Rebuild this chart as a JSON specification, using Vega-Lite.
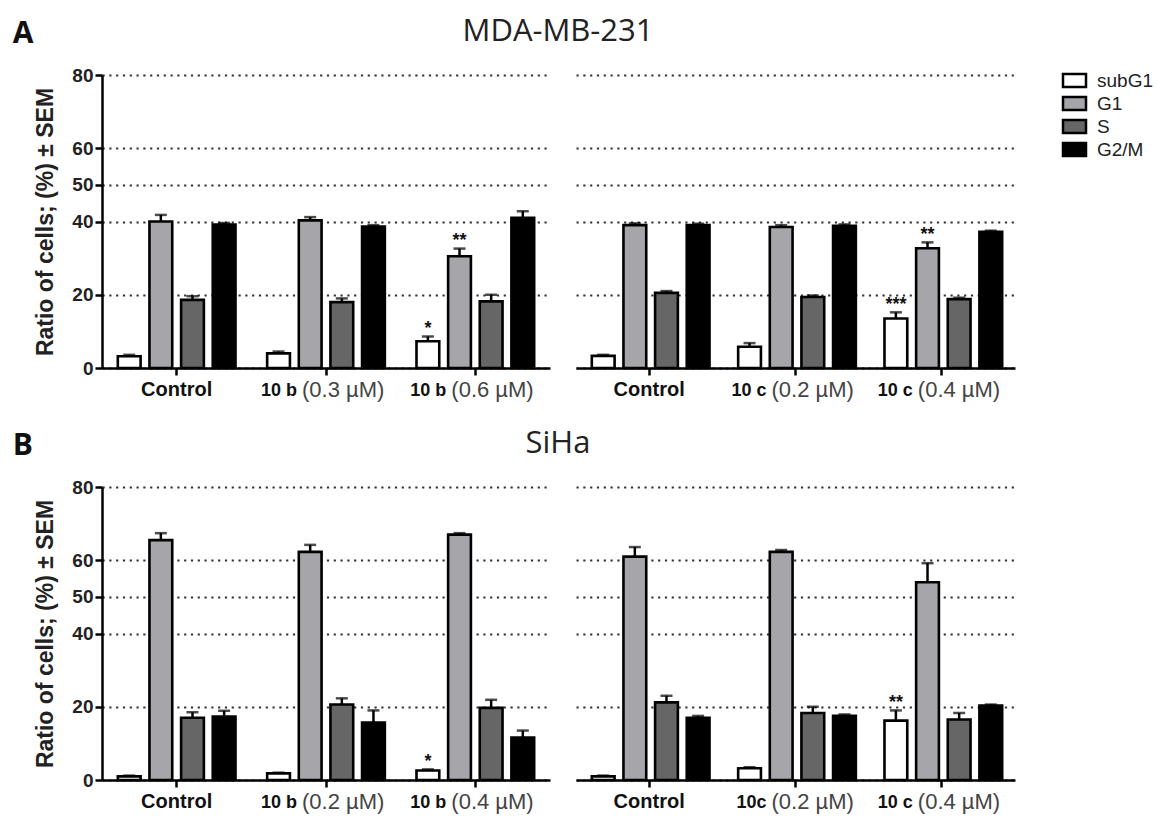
{
 "$schema": "https://vega.github.io/schema/vega-lite/v6.json",
 "padding": {"left": 12, "top": 16, "right": 2, "bottom": 2},
 "background": "white",
 "datasets": {
  "bars": [
   {"p":"AL","cat":"Control","ph":"subG1","v":3.2,"hi":3.6,"sig":""},
   {"p":"AL","cat":"Control","ph":"G1","v":40.0,"hi":41.8,"sig":""},
   {"p":"AL","cat":"Control","ph":"S","v":18.6,"hi":19.6,"sig":""},
   {"p":"AL","cat":"Control","ph":"G2/M","v":39.2,"hi":39.6,"sig":""},
   {"p":"AL","cat":"10b03","ph":"subG1","v":4.0,"hi":4.5,"sig":""},
   {"p":"AL","cat":"10b03","ph":"G1","v":40.3,"hi":41.2,"sig":""},
   {"p":"AL","cat":"10b03","ph":"S","v":18.0,"hi":19.0,"sig":""},
   {"p":"AL","cat":"10b03","ph":"G2/M","v":38.6,"hi":39.0,"sig":""},
   {"p":"AL","cat":"10b06","ph":"subG1","v":7.3,"hi":8.6,"sig":"*"},
   {"p":"AL","cat":"10b06","ph":"G1","v":30.5,"hi":32.6,"sig":"**"},
   {"p":"AL","cat":"10b06","ph":"S","v":18.2,"hi":20.0,"sig":""},
   {"p":"AL","cat":"10b06","ph":"G2/M","v":41.0,"hi":42.8,"sig":""},
   {"p":"AR","cat":"Control","ph":"subG1","v":3.3,"hi":3.6,"sig":""},
   {"p":"AR","cat":"Control","ph":"G1","v":39.0,"hi":39.5,"sig":""},
   {"p":"AR","cat":"Control","ph":"S","v":20.5,"hi":21.0,"sig":""},
   {"p":"AR","cat":"Control","ph":"G2/M","v":39.0,"hi":39.4,"sig":""},
   {"p":"AR","cat":"10c02","ph":"subG1","v":5.8,"hi":6.8,"sig":""},
   {"p":"AR","cat":"10c02","ph":"G1","v":38.5,"hi":39.0,"sig":""},
   {"p":"AR","cat":"10c02","ph":"S","v":19.4,"hi":19.8,"sig":""},
   {"p":"AR","cat":"10c02","ph":"G2/M","v":38.8,"hi":39.2,"sig":""},
   {"p":"AR","cat":"10c04","ph":"subG1","v":13.5,"hi":15.2,"sig":"***"},
   {"p":"AR","cat":"10c04","ph":"G1","v":32.7,"hi":34.3,"sig":"**"},
   {"p":"AR","cat":"10c04","ph":"S","v":18.8,"hi":19.2,"sig":""},
   {"p":"AR","cat":"10c04","ph":"G2/M","v":37.2,"hi":37.5,"sig":""},
   {"p":"BL","cat":"Control","ph":"subG1","v":1.0,"hi":1.2,"sig":""},
   {"p":"BL","cat":"Control","ph":"G1","v":65.5,"hi":67.4,"sig":""},
   {"p":"BL","cat":"Control","ph":"S","v":17.0,"hi":18.5,"sig":""},
   {"p":"BL","cat":"Control","ph":"G2/M","v":17.3,"hi":18.9,"sig":""},
   {"p":"BL","cat":"10b02","ph":"subG1","v":1.8,"hi":2.0,"sig":""},
   {"p":"BL","cat":"10b02","ph":"G1","v":62.3,"hi":64.2,"sig":""},
   {"p":"BL","cat":"10b02","ph":"S","v":20.6,"hi":22.3,"sig":""},
   {"p":"BL","cat":"10b02","ph":"G2/M","v":15.7,"hi":19.0,"sig":""},
   {"p":"BL","cat":"10b04","ph":"subG1","v":2.6,"hi":2.9,"sig":"*"},
   {"p":"BL","cat":"10b04","ph":"G1","v":67.0,"hi":67.4,"sig":""},
   {"p":"BL","cat":"10b04","ph":"S","v":19.7,"hi":21.9,"sig":""},
   {"p":"BL","cat":"10b04","ph":"G2/M","v":11.6,"hi":13.5,"sig":""},
   {"p":"BR","cat":"Control","ph":"subG1","v":1.0,"hi":1.2,"sig":""},
   {"p":"BR","cat":"Control","ph":"G1","v":61.0,"hi":63.6,"sig":""},
   {"p":"BR","cat":"Control","ph":"S","v":21.2,"hi":23.0,"sig":""},
   {"p":"BR","cat":"Control","ph":"G2/M","v":17.0,"hi":17.5,"sig":""},
   {"p":"BR","cat":"10c02","ph":"subG1","v":3.2,"hi":3.5,"sig":""},
   {"p":"BR","cat":"10c02","ph":"G1","v":62.3,"hi":62.8,"sig":""},
   {"p":"BR","cat":"10c02","ph":"S","v":18.3,"hi":20.0,"sig":""},
   {"p":"BR","cat":"10c02","ph":"G2/M","v":17.5,"hi":17.9,"sig":""},
   {"p":"BR","cat":"10c04","ph":"subG1","v":16.2,"hi":19.0,"sig":"**"},
   {"p":"BR","cat":"10c04","ph":"G1","v":54.0,"hi":59.2,"sig":""},
   {"p":"BR","cat":"10c04","ph":"S","v":16.5,"hi":18.3,"sig":""},
   {"p":"BR","cat":"10c04","ph":"G2/M","v":20.3,"hi":20.6,"sig":""}
  ],
  "labels": [
   {"p":"AL","cat":"Control","kind":"c","b":"Control","r":""},
   {"p":"AL","cat":"10b03","kind":"d","b":"10 b","r":"(0.3 µM)"},
   {"p":"AL","cat":"10b06","kind":"d","b":"10 b","r":"(0.6 µM)"},
   {"p":"AR","cat":"Control","kind":"c","b":"Control","r":""},
   {"p":"AR","cat":"10c02","kind":"d","b":"10 c","r":"(0.2 µM)"},
   {"p":"AR","cat":"10c04","kind":"d","b":"10 c","r":"(0.4 µM)"},
   {"p":"BL","cat":"Control","kind":"c","b":"Control","r":""},
   {"p":"BL","cat":"10b02","kind":"d","b":"10 b","r":"(0.2 µM)"},
   {"p":"BL","cat":"10b04","kind":"d","b":"10 b","r":"(0.4 µM)"},
   {"p":"BR","cat":"Control","kind":"c","b":"Control","r":""},
   {"p":"BR","cat":"10c02","kind":"d","b":"10c","r":"(0.2 µM)"},
   {"p":"BR","cat":"10c04","kind":"d","b":"10 c","r":"(0.4 µM)"}
  ]
 },
 "config": {
  "view": {"stroke": null},
  "font": "Liberation Sans",
  "axis": {"domainColor": "black", "domainWidth": 2.5, "tickColor": "black", "tickWidth": 2.5, "tickSize": 7, "labelFont": "Liberation Sans", "labelFontWeight": "bold", "labelFontSize": 19, "labelColor": "#222", "titleFont": "Liberation Sans", "titleFontWeight": "bold", "titleFontSize": 23, "titleColor": "#222"},
  "axisY": {"grid": true, "gridColor": "#333", "gridDash": [2.2, 4.6], "gridWidth": 2.2, "labelPadding": 2, "titlePadding": 14},
  "axisX": {"grid": false, "labels": false},
  "legend": {"orient": "none", "legendX": 961, "legendY": -6, "symbolType": "M-1.15,-0.65H1.15V0.65H-1.15Z", "symbolSize": 400, "symbolStrokeColor": "black", "symbolStrokeWidth": 2.5, "labelFont": "Liberation Sans", "labelFontSize": 19, "labelColor": "#222", "labelOffset": 11, "rowPadding": 0, "padding": 0}
 },
 "resolve": {"scale": {"color": "shared"}},
 "columns": 2,
 "bounds": "flush",
 "spacing": {"row": 119, "column": 26},
 "concat": [
  {
   "width": 448, "height": 293,
   "title": {"text": "A", "anchor": "start", "frame": "bounds", "dx": -22, "offset": -7, "fontSize": 30, "fontWeight": "bold", "font": "Open Sans", "baseline": "alphabetic", "color": "#111"},
   "encoding": {"x": {"field": "cat", "type": "nominal", "scale": {"domain": ["Control", "10b03", "10b06"], "paddingInner": 0, "paddingOuter": 0}, "axis": {"title": null, "labels": false}}},
   "layer": [
    {"data": {"name": "bars"}, "transform": [{"filter": "datum.p == 'AL'"}], "mark": {"type": "bar", "stroke": "black", "strokeWidth": 2.6},
     "encoding": {"xOffset": {"field": "ph", "type": "nominal", "scale": {"domain": ["subG1", "G1", "S", "G2/M"], "paddingInner": 0.28, "paddingOuter": 0.5}},
      "y": {"field": "v", "type": "quantitative", "title": "Ratio of cells; (%) ± SEM", "scale": {"domain": [0, 80]}, "axis": {"values": [0, 20, 40, 50, 60, 80]}},
      "color": {"field": "ph", "type": "nominal", "title": null, "scale": {"domain": ["subG1", "G1", "S", "G2/M"], "range": ["#ffffff", "#a6a6aa", "#666666", "#000000"]}}}},
    {"data": {"name": "bars"}, "transform": [{"filter": "datum.p == 'AL'"}], "mark": {"type": "rule", "strokeWidth": 2.5, "color": "black"},
     "encoding": {"xOffset": {"field": "ph", "type": "nominal"}, "y": {"field": "v", "type": "quantitative", "title": "Ratio of cells; (%) ± SEM"}, "y2": {"field": "hi"}}},
    {"data": {"name": "bars"}, "transform": [{"filter": "datum.p == 'AL'"}], "mark": {"type": "tick", "size": 12, "thickness": 2.5, "color": "black"},
     "encoding": {"xOffset": {"field": "ph", "type": "nominal"}, "y": {"field": "hi", "type": "quantitative", "title": "Ratio of cells; (%) ± SEM"}}},
    {"data": {"name": "bars"}, "transform": [{"filter": "datum.p == 'AL' && datum.sig != ''"}], "mark": {"type": "text", "font": "Liberation Sans", "fontWeight": "bold", "fontSize": 18, "baseline": "alphabetic", "dy": -2.5, "color": "#111"},
     "encoding": {"xOffset": {"field": "ph", "type": "nominal"}, "y": {"field": "hi", "type": "quantitative", "title": "Ratio of cells; (%) ± SEM"}, "text": {"field": "sig"}}},
    {"data": {"name": "labels"}, "transform": [{"filter": "datum.p == 'AL' && datum.kind == 'c'"}], "mark": {"type": "text", "font": "Liberation Sans", "fontWeight": "bold", "fontSize": 20, "baseline": "middle", "align": "center", "dy": 22, "color": "#111"},
     "encoding": {"y": {"datum": 0, "type": "quantitative"}, "text": {"field": "b"}}},
    {"data": {"name": "labels"}, "transform": [{"filter": "datum.p == 'AL' && datum.kind == 'd'"}], "mark": {"type": "text", "font": "Liberation Sans", "fontWeight": "bold", "fontSize": 18, "baseline": "middle", "align": "right", "dx": -29, "dy": 23, "color": "#111"},
     "encoding": {"y": {"datum": 0, "type": "quantitative"}, "text": {"field": "b"}}},
    {"data": {"name": "labels"}, "transform": [{"filter": "datum.p == 'AL' && datum.kind == 'd'"}], "mark": {"type": "text", "font": "Liberation Sans", "fontSize": 22, "baseline": "middle", "align": "left", "dx": -24, "dy": 22, "color": "#444"},
     "encoding": {"y": {"datum": 0, "type": "quantitative"}, "text": {"field": "r"}}}
   ]
  },
  {
   "width": 439, "height": 293,
   "title": {"text": "MDA-MB-231", "anchor": "start", "align": "center", "frame": "group", "dx": -18, "offset": 3, "fontSize": 31, "fontWeight": "normal", "font": "Open Sans", "baseline": "alphabetic", "color": "#222"},
   "encoding": {"x": {"field": "cat", "type": "nominal", "scale": {"domain": ["Control", "10c02", "10c04"], "paddingInner": 0, "paddingOuter": 0}, "axis": {"title": null, "labels": false}}},
   "layer": [
    {"data": {"name": "bars"}, "transform": [{"filter": "datum.p == 'AR'"}], "mark": {"type": "bar", "stroke": "black", "strokeWidth": 2.6},
     "encoding": {"xOffset": {"field": "ph", "type": "nominal", "scale": {"domain": ["subG1", "G1", "S", "G2/M"], "paddingInner": 0.28, "paddingOuter": 0.5}},
      "y": {"field": "v", "type": "quantitative", "title": null, "scale": {"domain": [0, 80]}, "axis": {"values": [0, 20, 40, 50, 60, 80], "domain": false, "labels": false, "ticks": false}},
      "color": {"field": "ph", "type": "nominal", "title": null, "scale": {"domain": ["subG1", "G1", "S", "G2/M"], "range": ["#ffffff", "#a6a6aa", "#666666", "#000000"]}}}},
    {"data": {"name": "bars"}, "transform": [{"filter": "datum.p == 'AR'"}], "mark": {"type": "rule", "strokeWidth": 2.5, "color": "black"},
     "encoding": {"xOffset": {"field": "ph", "type": "nominal"}, "y": {"field": "v", "type": "quantitative", "title": null}, "y2": {"field": "hi"}}},
    {"data": {"name": "bars"}, "transform": [{"filter": "datum.p == 'AR'"}], "mark": {"type": "tick", "size": 12, "thickness": 2.5, "color": "black"},
     "encoding": {"xOffset": {"field": "ph", "type": "nominal"}, "y": {"field": "hi", "type": "quantitative", "title": null}}},
    {"data": {"name": "bars"}, "transform": [{"filter": "datum.p == 'AR' && datum.sig != ''"}], "mark": {"type": "text", "font": "Liberation Sans", "fontWeight": "bold", "fontSize": 18, "baseline": "alphabetic", "dy": -2.5, "color": "#111"},
     "encoding": {"xOffset": {"field": "ph", "type": "nominal"}, "y": {"field": "hi", "type": "quantitative", "title": null}, "text": {"field": "sig"}}},
    {"data": {"name": "labels"}, "transform": [{"filter": "datum.p == 'AR' && datum.kind == 'c'"}], "mark": {"type": "text", "font": "Liberation Sans", "fontWeight": "bold", "fontSize": 20, "baseline": "middle", "align": "center", "dy": 22, "color": "#111"},
     "encoding": {"y": {"datum": 0, "type": "quantitative"}, "text": {"field": "b"}}},
    {"data": {"name": "labels"}, "transform": [{"filter": "datum.p == 'AR' && datum.kind == 'd'"}], "mark": {"type": "text", "font": "Liberation Sans", "fontWeight": "bold", "fontSize": 18, "baseline": "middle", "align": "right", "dx": -29, "dy": 23, "color": "#111"},
     "encoding": {"y": {"datum": 0, "type": "quantitative"}, "text": {"field": "b"}}},
    {"data": {"name": "labels"}, "transform": [{"filter": "datum.p == 'AR' && datum.kind == 'd'"}], "mark": {"type": "text", "font": "Liberation Sans", "fontSize": 22, "baseline": "middle", "align": "left", "dx": -24, "dy": 22, "color": "#444"},
     "encoding": {"y": {"datum": 0, "type": "quantitative"}, "text": {"field": "r"}}}
   ]
  },
  {
   "width": 448, "height": 293,
   "title": {"text": "B", "anchor": "start", "frame": "bounds", "dx": -22, "offset": -7, "fontSize": 30, "fontWeight": "bold", "font": "Open Sans", "baseline": "alphabetic", "color": "#111"},
   "encoding": {"x": {"field": "cat", "type": "nominal", "scale": {"domain": ["Control", "10b02", "10b04"], "paddingInner": 0, "paddingOuter": 0}, "axis": {"title": null, "labels": false}}},
   "layer": [
    {"data": {"name": "bars"}, "transform": [{"filter": "datum.p == 'BL'"}], "mark": {"type": "bar", "stroke": "black", "strokeWidth": 2.6},
     "encoding": {"xOffset": {"field": "ph", "type": "nominal", "scale": {"domain": ["subG1", "G1", "S", "G2/M"], "paddingInner": 0.28, "paddingOuter": 0.5}},
      "y": {"field": "v", "type": "quantitative", "title": "Ratio of cells; (%) ± SEM", "scale": {"domain": [0, 80]}, "axis": {"values": [0, 20, 40, 50, 60, 80]}},
      "color": {"field": "ph", "type": "nominal", "title": null, "scale": {"domain": ["subG1", "G1", "S", "G2/M"], "range": ["#ffffff", "#a6a6aa", "#666666", "#000000"]}}}},
    {"data": {"name": "bars"}, "transform": [{"filter": "datum.p == 'BL'"}], "mark": {"type": "rule", "strokeWidth": 2.5, "color": "black"},
     "encoding": {"xOffset": {"field": "ph", "type": "nominal"}, "y": {"field": "v", "type": "quantitative", "title": "Ratio of cells; (%) ± SEM"}, "y2": {"field": "hi"}}},
    {"data": {"name": "bars"}, "transform": [{"filter": "datum.p == 'BL'"}], "mark": {"type": "tick", "size": 12, "thickness": 2.5, "color": "black"},
     "encoding": {"xOffset": {"field": "ph", "type": "nominal"}, "y": {"field": "hi", "type": "quantitative", "title": "Ratio of cells; (%) ± SEM"}}},
    {"data": {"name": "bars"}, "transform": [{"filter": "datum.p == 'BL' && datum.sig != ''"}], "mark": {"type": "text", "font": "Liberation Sans", "fontWeight": "bold", "fontSize": 18, "baseline": "alphabetic", "dy": -2.5, "color": "#111"},
     "encoding": {"xOffset": {"field": "ph", "type": "nominal"}, "y": {"field": "hi", "type": "quantitative", "title": "Ratio of cells; (%) ± SEM"}, "text": {"field": "sig"}}},
    {"data": {"name": "labels"}, "transform": [{"filter": "datum.p == 'BL' && datum.kind == 'c'"}], "mark": {"type": "text", "font": "Liberation Sans", "fontWeight": "bold", "fontSize": 20, "baseline": "middle", "align": "center", "dy": 22, "color": "#111"},
     "encoding": {"y": {"datum": 0, "type": "quantitative"}, "text": {"field": "b"}}},
    {"data": {"name": "labels"}, "transform": [{"filter": "datum.p == 'BL' && datum.kind == 'd'"}], "mark": {"type": "text", "font": "Liberation Sans", "fontWeight": "bold", "fontSize": 18, "baseline": "middle", "align": "right", "dx": -29, "dy": 23, "color": "#111"},
     "encoding": {"y": {"datum": 0, "type": "quantitative"}, "text": {"field": "b"}}},
    {"data": {"name": "labels"}, "transform": [{"filter": "datum.p == 'BL' && datum.kind == 'd'"}], "mark": {"type": "text", "font": "Liberation Sans", "fontSize": 22, "baseline": "middle", "align": "left", "dx": -24, "dy": 22, "color": "#444"},
     "encoding": {"y": {"datum": 0, "type": "quantitative"}, "text": {"field": "r"}}}
   ]
  },
  {
   "width": 439, "height": 293,
   "title": {"text": "SiHa", "anchor": "start", "align": "center", "frame": "group", "dx": -18, "offset": 3, "fontSize": 31, "fontWeight": "normal", "font": "Open Sans", "baseline": "alphabetic", "color": "#222"},
   "encoding": {"x": {"field": "cat", "type": "nominal", "scale": {"domain": ["Control", "10c02", "10c04"], "paddingInner": 0, "paddingOuter": 0}, "axis": {"title": null, "labels": false}}},
   "layer": [
    {"data": {"name": "bars"}, "transform": [{"filter": "datum.p == 'BR'"}], "mark": {"type": "bar", "stroke": "black", "strokeWidth": 2.6},
     "encoding": {"xOffset": {"field": "ph", "type": "nominal", "scale": {"domain": ["subG1", "G1", "S", "G2/M"], "paddingInner": 0.28, "paddingOuter": 0.5}},
      "y": {"field": "v", "type": "quantitative", "title": null, "scale": {"domain": [0, 80]}, "axis": {"values": [0, 20, 40, 50, 60, 80], "domain": false, "labels": false, "ticks": false}},
      "color": {"field": "ph", "type": "nominal", "title": null, "scale": {"domain": ["subG1", "G1", "S", "G2/M"], "range": ["#ffffff", "#a6a6aa", "#666666", "#000000"]}}}},
    {"data": {"name": "bars"}, "transform": [{"filter": "datum.p == 'BR'"}], "mark": {"type": "rule", "strokeWidth": 2.5, "color": "black"},
     "encoding": {"xOffset": {"field": "ph", "type": "nominal"}, "y": {"field": "v", "type": "quantitative", "title": null}, "y2": {"field": "hi"}}},
    {"data": {"name": "bars"}, "transform": [{"filter": "datum.p == 'BR'"}], "mark": {"type": "tick", "size": 12, "thickness": 2.5, "color": "black"},
     "encoding": {"xOffset": {"field": "ph", "type": "nominal"}, "y": {"field": "hi", "type": "quantitative", "title": null}}},
    {"data": {"name": "bars"}, "transform": [{"filter": "datum.p == 'BR' && datum.sig != ''"}], "mark": {"type": "text", "font": "Liberation Sans", "fontWeight": "bold", "fontSize": 18, "baseline": "alphabetic", "dy": -2.5, "color": "#111"},
     "encoding": {"xOffset": {"field": "ph", "type": "nominal"}, "y": {"field": "hi", "type": "quantitative", "title": null}, "text": {"field": "sig"}}},
    {"data": {"name": "labels"}, "transform": [{"filter": "datum.p == 'BR' && datum.kind == 'c'"}], "mark": {"type": "text", "font": "Liberation Sans", "fontWeight": "bold", "fontSize": 20, "baseline": "middle", "align": "center", "dy": 22, "color": "#111"},
     "encoding": {"y": {"datum": 0, "type": "quantitative"}, "text": {"field": "b"}}},
    {"data": {"name": "labels"}, "transform": [{"filter": "datum.p == 'BR' && datum.kind == 'd'"}], "mark": {"type": "text", "font": "Liberation Sans", "fontWeight": "bold", "fontSize": 18, "baseline": "middle", "align": "right", "dx": -29, "dy": 23, "color": "#111"},
     "encoding": {"y": {"datum": 0, "type": "quantitative"}, "text": {"field": "b"}}},
    {"data": {"name": "labels"}, "transform": [{"filter": "datum.p == 'BR' && datum.kind == 'd'"}], "mark": {"type": "text", "font": "Liberation Sans", "fontSize": 22, "baseline": "middle", "align": "left", "dx": -24, "dy": 22, "color": "#444"},
     "encoding": {"y": {"datum": 0, "type": "quantitative"}, "text": {"field": "r"}}}
   ]
  }
 ]
}
